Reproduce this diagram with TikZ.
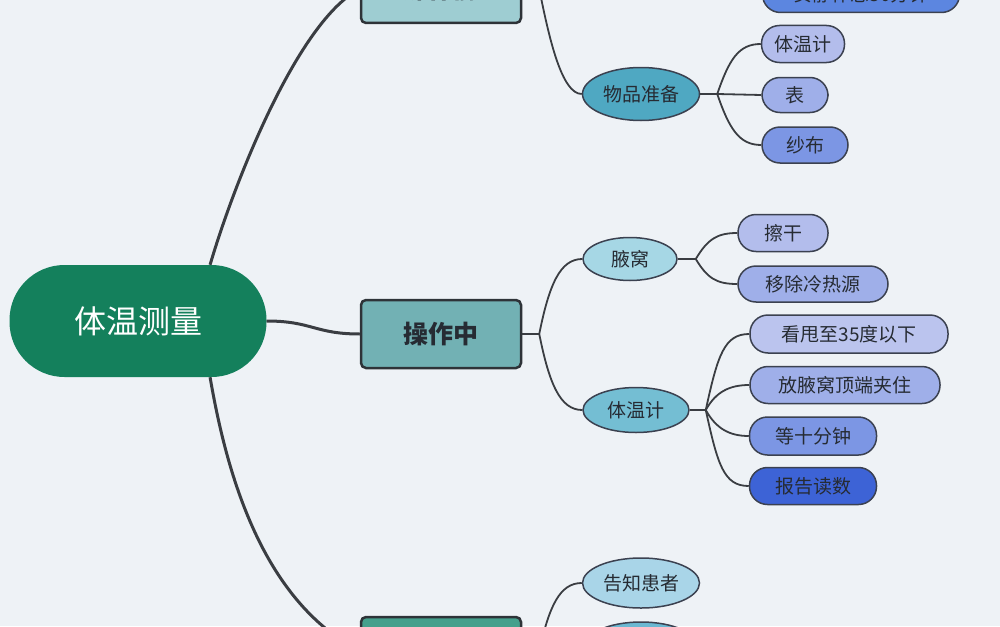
\documentclass[tikz,border=0pt]{standalone}
\usepackage{fontspec}
\setmainfont{Noto Sans CJK SC}
\usetikzlibrary{shapes.geometric,calc}
\definecolor{bg}{HTML}{EEF2F6}
\definecolor{rootc}{HTML}{14805C}
\definecolor{boxline}{HTML}{2E3338}
\definecolor{nodeline}{HTML}{3B4150}
\definecolor{textc}{HTML}{262B33}
\definecolor{linec}{HTML}{3A3D42}
\definecolor{boxA}{HTML}{9ECDD2}
\definecolor{boxB}{HTML}{72B1B4}
\definecolor{boxC}{HTML}{45A08C}
\definecolor{ellD}{HTML}{4FA8C2}
\definecolor{ellE}{HTML}{A6D7E5}
\definecolor{ellF}{HTML}{74BED3}
\definecolor{ellG}{HTML}{A9D5E8}
\definecolor{ellH}{HTML}{6BB8D2}
\definecolor{pA}{HTML}{B3BDEC}
\definecolor{pB}{HTML}{9FAFE9}
\definecolor{pC}{HTML}{7C96E4}
\definecolor{pD}{HTML}{5C86E0}
\definecolor{pE}{HTML}{3D63D6}
\begin{document}
\begin{tikzpicture}[x=1pt,y=-1pt,
  rootnode/.style={rectangle, rounded corners=55pt, fill=rootc, minimum width=257pt, minimum height=112pt, inner sep=0pt, text=white, font=\fontsize{32}{36}\selectfont},
  boxnode/.style={rectangle, rounded corners=5pt, draw=boxline, line width=2.5pt, minimum width=160pt, minimum height=68pt, inner sep=0pt, text=textc, font=\bfseries\fontsize{25}{30}\selectfont},
  ellnode/.style={ellipse, draw=nodeline, line width=1.5pt, inner sep=0pt, text=textc, font=\fontsize{19}{22}\selectfont},
  pill/.style={rectangle, rounded corners=18pt, draw=nodeline, line width=1.5pt, minimum height=37pt, inner sep=0pt, text=textc, font=\fontsize{19}{22}\selectfont},
  trunk/.style={draw=linec, line width=3pt},
  branch/.style={draw=linec, line width=1.8pt}
]
\path[use as bounding box, fill=bg] (0,0) rectangle (1000,626);
\clip (0,0) rectangle (1000,626);

% main nodes
\node[rootnode] (R) at (138,321) {体温测量};
\node[boxnode, fill=boxA] (A) at (441,-11) {操作前};
\node[boxnode, fill=boxB] (B) at (441,334) {操作中};
\node[boxnode, fill=boxC] (C) at (441,651) {};

% level 3 ellipses
\node[ellnode, fill=ellD, minimum width=117pt, minimum height=53pt] (D) at (641,94) {物品准备};
\node[ellnode, fill=ellE, minimum width=94pt, minimum height=43pt] (E) at (630,259) {腋窝};
\node[ellnode, fill=ellF, minimum width=106pt, minimum height=45pt] (F) at (636,410) {体温计};
\node[ellnode, fill=ellG, minimum width=117pt, minimum height=50pt] (G) at (641,583) {告知患者};
\node[ellnode, fill=ellH, minimum width=117pt, minimum height=52pt] (H) at (641,648) {};

% level 4 pills
\node[pill, fill=pD, minimum width=197pt] (D0) at (861,-6) {安静休息30分钟};
\node[pill, fill=pA, minimum width=83pt] (D1) at (803,44) {体温计};
\node[pill, fill=pB, minimum width=66pt, minimum height=35pt] (D2) at (795,95) {表};
\node[pill, fill=pC, minimum width=86pt, minimum height=36pt] (D3) at (805,145) {纱布};

\node[pill, fill=pA, minimum width=90pt] (E1) at (783,233) {擦干};
\node[pill, fill=pB, minimum width=150pt, minimum height=36pt] (E2) at (813,284) {移除冷热源};

\node[pill, fill=pA!90!white, minimum width=198pt, minimum height=38pt] (F1) at (849,334) {看甩至35度以下};
\node[pill, fill=pB, minimum width=190pt] (F2) at (845,385) {放腋窝顶端夹住};
\node[pill, fill=pC, minimum width=127pt, minimum height=38pt] (F3) at (813,436) {等十分钟};
\node[pill, fill=pE, minimum width=127pt] (F4) at (813,486) {报告读数};

% root connectors
\draw[trunk] ($(R.north)!0.56!(R.north east)$) .. controls +(25,-85) and +(-61,31) .. (A.west);
\draw[trunk] (R.east) .. controls +(45,0) and +(-45,0) .. (B.west);
\draw[trunk] ($(R.south)!0.56!(R.south east)$) .. controls +(16,93) and +(-99,-51) .. (C.west);

% second level connectors
\draw[branch] (A.east) -- +(17,0) coordinate (a1);
\draw[branch] (a1) .. controls +(10,50) and +(-20,0) .. (D.west);

\draw[branch] (B.east) -- +(17,0) coordinate (b1);
\draw[branch] (b1) .. controls +(10,-50) and +(-22,0) .. (E.west);
\draw[branch] (b1) .. controls +(10,50) and +(-22,0) .. (F.west);

\draw[branch] (C.east) -- +(17,0) coordinate (c1);
\draw[branch] (c1) .. controls +(10,-45) and +(-22,0) .. (G.west);
\draw[branch] (c1) .. controls +(10,0) and +(-15,0) .. (H.west);

% third level connectors
\draw[branch] (D.east) -- +(17,0) coordinate (d1);
\draw[branch] (d1) .. controls +(12,-35) and +(-22,0) .. (D1.west);
\draw[branch] (d1) -- (D2.west);
\draw[branch] (d1) .. controls +(12,35) and +(-22,0) .. (D3.west);

\draw[branch] (E.east) -- +(18,0) coordinate (e1);
\draw[branch] (e1) .. controls +(12,-20) and +(-20,0) .. (E1.west);
\draw[branch] (e1) .. controls +(12,20) and +(-20,0) .. (E2.west);

\draw[branch] (F.east) -- +(16,0) coordinate (f1);
\draw[branch] (f1) .. controls +(12,-55) and +(-25,0) .. (F1.west);
\draw[branch] (f1) .. controls +(10,-18) and +(-20,0) .. (F2.west);
\draw[branch] (f1) .. controls +(10,18) and +(-20,0) .. (F3.west);
\draw[branch] (f1) .. controls +(12,55) and +(-25,0) .. (F4.west);
\end{tikzpicture}
\end{document}
